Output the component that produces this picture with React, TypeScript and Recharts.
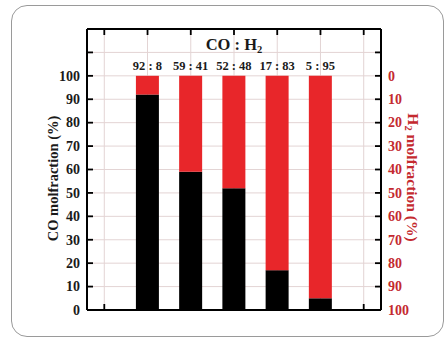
import React from 'react';
import { ComposedChart, Bar, Line, XAxis, YAxis, CartesianGrid, LabelList } from 'recharts';

const FONT = "'Liberation Serif','Times New Roman',serif";
const RED_BAR = '#e8262a';
const RED_TEXT = '#c42a2f';
const GRID = '#e3d4d4';

// category positions on the x scale and their ratio labels
const positions = [2, 3, 4, 5, 6];
const ratioLabels = ['92 : 8', '59 : 41', '52 : 48', '17 : 83', '5 : 95'];
const coFraction = [92, 59, 52, 17, 5];
const h2Fraction = [8, 41, 48, 83, 95];

const xTicks = [1, 2, 3, 4, 5, 6, 7];
const leftLabels = [0, 10, 20, 30, 40, 50, 60, 70, 80, 90, 100];
const leftMarks = [...leftLabels, 110];
const rightLabels = [0, 10, 20, 30, 40, 50, 60, 70, 80, 90, 100];
const rightMarks = [-10, ...rightLabels];

const data = positions.map((x, i) => ({
  x,
  co: coFraction[i],
  h2: h2Fraction[i],
  ratio: ratioLabels[i],
}));

const M = 7;
const TL = 6;

const LeftTick = (props: any) => {
  const { x, y, payload } = props;
  const v = payload.value;
  return (
    <g>
      <line x1={x + M} x2={x + M + TL} y1={y} y2={y} stroke="#000" strokeWidth={1.8} />
      {leftLabels.includes(v) && (
        <text x={x} y={y} dy={4.8} textAnchor="end" fontFamily={FONT} fontWeight="bold" fontSize={14} fill="#1a1a1a">
          {v}
        </text>
      )}
    </g>
  );
};

const RightTick = (props: any) => {
  const { x, y, payload } = props;
  const v = payload.value;
  return (
    <g>
      <line x1={x - M} x2={x - M - TL} y1={y} y2={y} stroke="#000" strokeWidth={1.8} />
      {rightLabels.includes(v) && (
        <text x={x} y={y} dy={4.8} textAnchor="start" fontFamily={FONT} fontWeight="bold" fontSize={14} fill={RED_TEXT}>
          {v}
        </text>
      )}
    </g>
  );
};

const TopTick = (props: any) => {
  const { x, y } = props;
  return <line x1={x} x2={x} y1={y + M} y2={y + M + TL} stroke="#000" strokeWidth={1.8} />;
};

const BottomTick = (props: any) => {
  const { x, y } = props;
  return <line x1={x} x2={x} y1={y - M} y2={y - M - TL} stroke="#000" strokeWidth={1.8} />;
};

const RatioLabel = (props: any) => {
  const { x, y, width, value } = props;
  return (
    <text
      x={x + width / 2}
      y={y - 5.5}
      textAnchor="middle"
      fontFamily={FONT}
      fontWeight="bold"
      fontSize={12.5}
      fill="#1a1a1a"
    >
      {value}
    </text>
  );
};

const LeftTitle = (props: any) => {
  const vb = props.viewBox || {};
  const cx = vb.x + vb.width / 2;
  const cy = vb.y + vb.height / 2 + 9;
  return (
    <text
      x={cx}
      y={cy}
      transform={`rotate(-90, ${cx}, ${cy})`}
      textAnchor="middle"
      dominantBaseline="central"
      fontFamily={FONT}
      fontWeight="bold"
      fontSize={14.5}
      fill="#1a1a1a"
    >
      CO molfraction (%)
    </text>
  );
};

const RightTitle = (props: any) => {
  const vb = props.viewBox || {};
  const cx = vb.x + vb.width / 2;
  const cy = vb.y + vb.height / 2 + 8;
  return (
    <text
      x={cx}
      y={cy}
      transform={`rotate(90, ${cx}, ${cy})`}
      textAnchor="middle"
      dominantBaseline="central"
      fontFamily={FONT}
      fontWeight="bold"
      fontSize={15.5}
      fill={RED_TEXT}
    >
      H<tspan fontSize={10.5} dy={4}>2</tspan>
      <tspan dy={-4}> molfraction (%)</tspan>
    </text>
  );
};

const TopTitle = (props: any) => {
  const vb = props.viewBox || {};
  const cx = vb.x + vb.width / 2;
  const cy = vb.y + vb.height + 21;
  return (
    <text x={cx} y={cy} textAnchor="middle" fontFamily={FONT} fontWeight="bold" fontSize={16.5} fill="#1a1a1a">
      CO : H<tspan fontSize={10.5} dy={3}>2</tspan>
    </text>
  );
};

export default function App() {
  return (
    <div style={{ position: 'absolute', left: 0, top: 0, width: 445, height: 338, background: '#fff' }}>
      <div
        style={{
          position: 'absolute',
          left: 11,
          top: 5,
          width: 433,
          height: 332,
          boxSizing: 'border-box',
          border: '1.5px solid #9a9a9a',
          borderRadius: 16,
        }}
      />
      <div style={{ position: 'absolute', left: 0, top: 0 }}>
        <ComposedChart width={445} height={338} data={data} margin={{ top: 9, right: 0, bottom: 0, left: 19 }}>
          <CartesianGrid stroke={GRID} strokeWidth={1} xAxisId={0} yAxisId="left" />
          <XAxis
            xAxisId={0}
            dataKey="x"
            type="number"
            domain={[0.6, 7.4]}
            ticks={xTicks}
            interval={0}
            orientation="bottom"
            height={28}
            tickSize={0}
            tickMargin={M}
            tickLine={false}
            axisLine={{ stroke: '#000', strokeWidth: 2 }}
            tick={BottomTick}
          />
          <XAxis
            xAxisId="top"
            dataKey="x"
            type="number"
            domain={[0.6, 7.4]}
            ticks={xTicks}
            interval={0}
            orientation="top"
            height={20}
            tickSize={0}
            tickMargin={M}
            tickLine={false}
            axisLine={{ stroke: '#000', strokeWidth: 2 }}
            tick={TopTick}
            label={{ content: TopTitle }}
          />
          <YAxis
            yAxisId="left"
            orientation="left"
            type="number"
            domain={[0, 120]}
            ticks={leftMarks}
            interval={0}
            width={68}
            tickSize={0}
            tickMargin={M}
            tickLine={false}
            axisLine={{ stroke: '#000', strokeWidth: 2 }}
            tick={LeftTick}
            label={{ content: LeftTitle }}
          />
          <YAxis
            yAxisId="right"
            orientation="right"
            type="number"
            domain={[-20, 100]}
            reversed
            ticks={rightMarks}
            interval={0}
            width={64}
            tickSize={0}
            tickMargin={M}
            tickLine={false}
            axisLine={{ stroke: '#000', strokeWidth: 2 }}
            tick={RightTick}
            label={{ content: RightTitle }}
          />
          <Bar dataKey="co" stackId="s" xAxisId={0} yAxisId="left" fill="#000" barSize={23} isAnimationActive={false} />
          <Bar dataKey="h2" stackId="s" xAxisId={0} yAxisId="left" fill={RED_BAR} barSize={23} isAnimationActive={false}>
            <LabelList dataKey="ratio" content={RatioLabel} />
          </Bar>
          <Line
            dataKey="h2"
            xAxisId="top"
            yAxisId="right"
            stroke="none"
            strokeOpacity={0}
            dot={false}
            activeDot={false}
            legendType="none"
            isAnimationActive={false}
          />
        </ComposedChart>
      </div>
    </div>
  );
}
